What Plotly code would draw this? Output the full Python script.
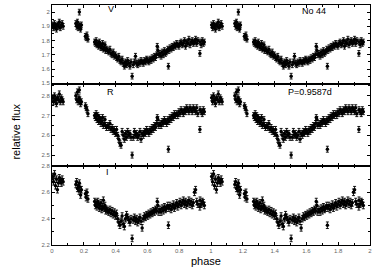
import plotly.graph_objects as go

PHASE = [0.004,0.010,0.016,0.022,0.028,0.034,0.040,0.046,0.052,0.058,0.064,0.070,
         0.150,0.155,0.160,0.165,0.170,0.172,0.175,0.180,0.185,
         0.210,0.215,0.220,0.226,
         0.268,0.273,0.278,0.283,0.288,0.293,0.298,0.303,0.308,0.313,0.318,0.323,0.328,0.333,0.338,0.343,
         0.350,0.357,0.364,0.371,0.378,0.385,0.392,0.399,0.406,0.413,0.420,0.427,0.434,0.441,0.448,0.455,
         0.462,0.469,0.476,0.483,0.490,0.497,0.504,0.511,0.518,0.525,0.532,0.539,0.546,0.553,0.560,0.567,
         0.574,0.581,0.588,0.595,0.602,0.609,0.616,0.623,0.630,0.637,0.644,0.651,0.658,0.662,0.666,0.672,
         0.679,0.686,0.693,0.700,0.707,0.714,0.721,0.728,0.732,0.735,0.742,0.749,0.756,0.763,0.770,0.777,
         0.784,0.791,0.798,0.805,0.812,0.819,0.826,0.833,0.840,0.847,0.854,0.861,0.868,0.875,0.882,0.889,
         0.896,0.903,0.910,0.917,0.930,0.931,0.938,0.945,0.952,0.958]

FLUX_V = [1.91,1.89,1.92,1.90,1.88,1.91,1.90,1.93,1.89,1.91,1.92,1.90,
          1.92,1.90,1.93,1.89,1.91,2.00,1.90,1.88,1.91,
          1.83,1.82,1.84,1.81,
          1.79,1.78,1.80,1.77,1.78,1.76,1.79,1.77,1.75,1.76,1.78,1.74,1.75,1.77,1.73,1.74,
          1.73,1.72,1.74,1.71,1.70,1.72,1.69,1.70,1.68,1.67,1.69,1.66,1.65,1.67,1.64,1.62,
          1.65,1.63,1.66,1.64,1.62,1.65,1.55,1.63,1.65,1.69,1.64,1.63,1.65,1.64,1.66,1.65,
          1.64,1.66,1.65,1.67,1.66,1.65,1.67,1.66,1.68,1.67,1.69,1.68,1.70,1.76,1.73,1.70,
          1.71,1.69,1.72,1.70,1.73,1.71,1.72,1.74,1.62,1.73,1.75,1.74,1.76,1.75,1.77,1.76,
          1.78,1.77,1.76,1.78,1.79,1.77,1.78,1.80,1.76,1.79,1.78,1.81,1.77,1.79,1.80,1.78,
          1.79,1.81,1.78,1.80,1.71,1.79,1.77,1.80,1.78,1.79]

FLUX_R = [2.79,2.77,2.80,2.78,2.76,2.79,2.78,2.81,2.77,2.79,2.78,2.77,
          2.80,2.78,2.82,2.77,2.79,2.83,2.78,2.76,2.77,
          2.75,2.74,2.73,2.71,
          2.70,2.69,2.71,2.68,2.70,2.67,2.69,2.68,2.66,2.67,2.69,2.65,2.66,2.68,2.65,2.64,
          2.65,2.64,2.66,2.63,2.64,2.62,2.63,2.61,2.63,2.60,2.58,2.56,2.55,2.62,2.60,2.58,
          2.61,2.59,2.62,2.60,2.61,2.59,2.50,2.59,2.62,2.60,2.61,2.59,2.60,2.62,2.58,2.61,
          2.60,2.62,2.61,2.63,2.62,2.61,2.63,2.62,2.64,2.63,2.65,2.64,2.66,2.69,2.68,2.65,
          2.66,2.65,2.67,2.66,2.68,2.67,2.66,2.68,2.53,2.67,2.69,2.68,2.70,2.69,2.71,2.70,
          2.71,2.70,2.72,2.71,2.73,2.72,2.71,2.73,2.72,2.74,2.73,2.72,2.74,2.73,2.72,2.74,
          2.73,2.72,2.74,2.71,2.63,2.73,2.72,2.71,2.73,2.72]

FLUX_I = [2.72,2.68,2.74,2.65,2.70,2.62,2.67,2.71,2.69,2.67,2.70,2.68,
          2.66,2.68,2.63,2.65,2.61,2.67,2.64,2.58,2.62,
          2.59,2.56,2.60,2.55,
          2.53,2.50,2.52,2.49,2.53,2.51,2.48,2.50,2.52,2.47,2.49,2.54,2.48,2.50,2.46,2.47,
          2.46,2.45,2.47,2.44,2.46,2.43,2.45,2.42,2.44,2.40,2.37,2.35,2.38,2.42,2.36,2.34,
          2.40,2.43,2.41,2.39,2.37,2.40,2.25,2.39,2.41,2.38,2.40,2.37,2.39,2.41,2.38,2.33,
          2.40,2.42,2.41,2.43,2.42,2.44,2.43,2.45,2.44,2.46,2.45,2.47,2.46,2.53,2.50,2.45,
          2.47,2.45,2.48,2.46,2.49,2.47,2.48,2.50,2.35,2.48,2.50,2.47,2.49,2.51,2.48,2.50,
          2.52,2.49,2.51,2.53,2.50,2.52,2.54,2.51,2.53,2.50,2.52,2.54,2.51,2.53,2.50,2.52,
          2.60,2.62,2.53,2.51,2.49,2.54,2.51,2.53,2.52,2.50]

ERR_V = 0.02
ERR_R = 0.015
ERR_I = 0.025

X_TICKS = [0, 0.2, 0.4, 0.6, 0.8, 1, 1.2, 1.4, 1.6, 1.8, 2]
X_TICKTEXT = ["0", "0.2", "0.4", "0.6", "0.8", "1", "1.2", "1.4", "1.6", "1.8", "2"]

fig = go.Figure()

bands = [
    (FLUX_V, ERR_V, "x3", "y3"),
    (FLUX_R, ERR_R, "x2", "y2"),
    (FLUX_I, ERR_I, "x", "y"),
]
for flux, err, xa, ya in bands:
    xs = PHASE + [p + 1 for p in PHASE]
    ys = flux + flux
    fig.add_trace(go.Scatter(
        x=xs, y=ys, mode="markers",
        marker=dict(symbol="circle", size=3.5, color="black"),
        error_y=dict(type="constant", value=err, thickness=0.9, width=1.5, color="black"),
        xaxis=xa, yaxis=ya, showlegend=False, hoverinfo="skip",
    ))

tickfont = dict(size=6, color="#666", family="Liberation Sans")
common = dict(showline=True, linecolor="black", linewidth=1, mirror="ticks",
              ticks="inside", ticklen=3, tickcolor="black", tickwidth=1,
              showgrid=False, zeroline=False, tickfont=tickfont)

H = 243.0
dom_I = [0, 80 / H]
dom_R = [80 / H, 163 / H]
dom_V = [163 / H, 1]

fig.update_layout(
    width=374, height=267,
    margin=dict(l=52, r=4, t=2, b=22),
    paper_bgcolor="white", plot_bgcolor="white",
    xaxis=dict(range=[0, 2], tickvals=X_TICKS, ticktext=X_TICKTEXT, anchor="y",
               minor=dict(ticks="inside", ticklen=2, dtick=0.1, tickcolor="black"), **common),
    xaxis2=dict(range=[0, 2], tickvals=X_TICKS, showticklabels=False, anchor="y2", matches="x",
                minor=dict(ticks="inside", ticklen=2, dtick=0.1, tickcolor="black"), **common),
    xaxis3=dict(range=[0, 2], tickvals=X_TICKS, showticklabels=False, anchor="y3", matches="x",
                minor=dict(ticks="inside", ticklen=2, dtick=0.1, tickcolor="black"), **common),
    yaxis=dict(domain=dom_I, range=[2.1999, 2.8001], dtick=0.2, anchor="x",
               minor=dict(ticks="inside", ticklen=2, dtick=0.1, tickcolor="black"), **common),
    yaxis2=dict(domain=dom_R, range=[2.445, 2.86], tickvals=[2.5, 2.6, 2.7, 2.8], anchor="x2",
                minor=dict(ticks="inside", ticklen=2, dtick=0.05, tickcolor="black"), **common),
    yaxis3=dict(domain=dom_V, range=[1.495, 2.05], tickvals=[1.5, 1.6, 1.7, 1.8, 1.9, 2.0],
                ticktext=["1.5", "1.6", "1.7", "1.8", "1.9", "2"], anchor="x3",
                minor=dict(ticks="inside", ticklen=2, dtick=0.05, tickcolor="black"), **common),
)

lab = dict(family="Liberation Sans", size=9, color="black")
fig.add_annotation(x=0.37, y=2.02, xref="x3", yref="y3", text="V", showarrow=False, font=lab)
fig.add_annotation(x=1.65, y=2.007, xref="x3", yref="y3", text="No 44", showarrow=False, font=lab)
fig.add_annotation(x=0.37, y=2.82, xref="x2", yref="y2", text="R", showarrow=False, font=lab)
fig.add_annotation(x=1.62, y=2.82, xref="x2", yref="y2", text="P=0.9587d", showarrow=False, font=lab)
fig.add_annotation(x=0.35, y=2.755, xref="x", yref="y", text="I", showarrow=False, font=lab)

fig.add_annotation(x=0.484, y=-0.068, xref="paper", yref="paper", text="phase", showarrow=False,
                   font=dict(family="Liberation Sans", size=11, color="black"), yanchor="middle")
fig.add_annotation(x=-0.138, y=0.473, xref="paper", yref="paper", text="relative flux", showarrow=False,
                   textangle=-90, font=dict(family="Liberation Sans", size=11, color="black"))

fig.write_html("out.html", config={"displayModeBar": False, "staticPlot": True},
               post_script=["document.body.style.margin='0px';document.body.style.overflow='hidden';"])
